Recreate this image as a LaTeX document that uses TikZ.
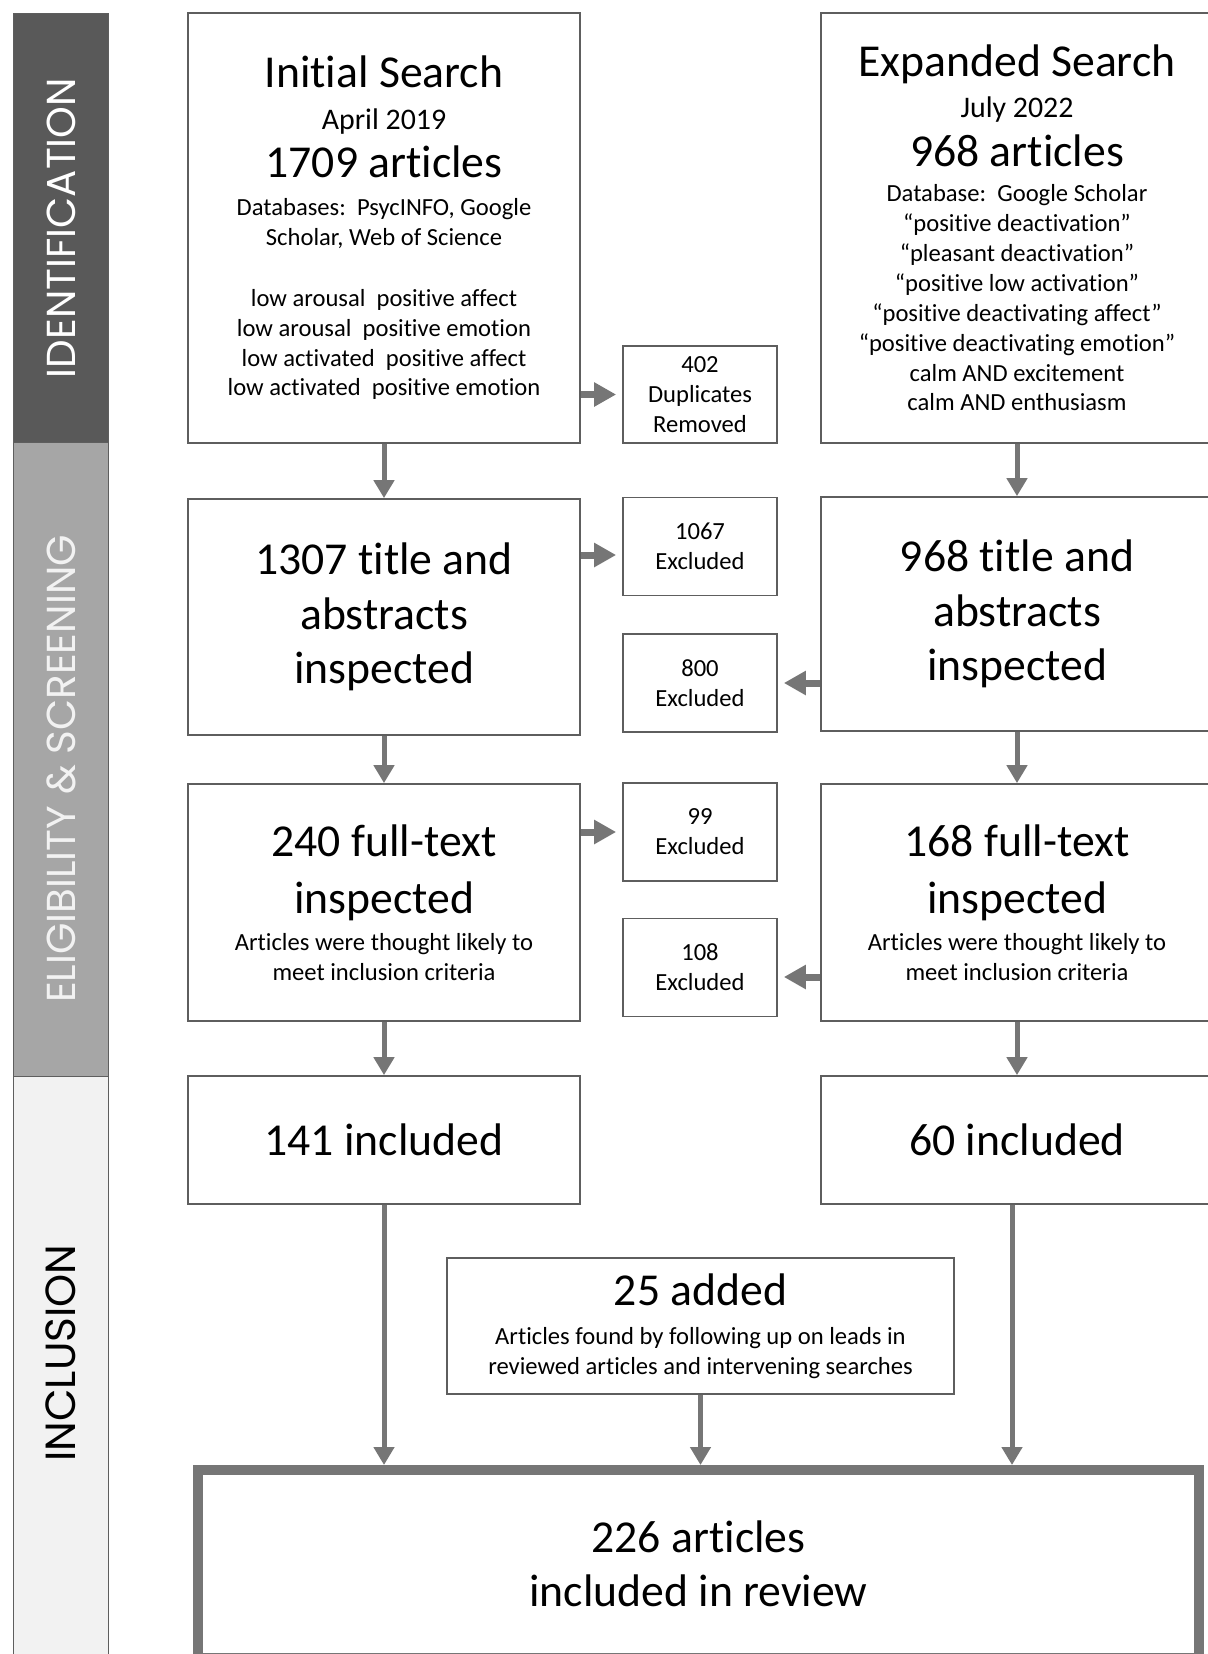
\documentclass[tikz,border=0pt]{standalone}
\usepackage{fontspec}
\setmainfont{Carlito}[Ligatures=NoCommon]
\newfontfamily\sidefont{Poppins}
\usetikzlibrary{arrows.meta}
\definecolor{bardark}{HTML}{595959}
\definecolor{barmid}{HTML}{A6A6A6}
\definecolor{barlight}{HTML}{F2F2F2}
\definecolor{linegray}{HTML}{5E5E5E}
\definecolor{arrowgray}{HTML}{767676}
\tikzset{
  box/.style={draw=linegray, line width=0.35mm, fill=white, align=center, inner sep=0pt,
    font=\fontsize{14}{17}\selectfont},
  bigbox/.style={box, minimum width=78.4mm},
  smallbox/.style={box, minimum width=30.8mm, minimum height=19.6mm},
  varrow/.style={arrowgray, line width=1mm, -{Triangle[width=4mm,length=3.6mm]}},
  harrow/.style={arrowgray, line width=1.4mm, -{Triangle[width=4.6mm,length=4.4mm]}, shorten >=1.2mm},
  sidelabel/.style={rotate=90, font=\sidefont\fontsize{23}{27}\selectfont}
}
\newcommand\bigtext[1]{{\fontsize{26}{31}\selectfont #1}}
\newcommand\midtext[1]{{\fontsize{17}{20}\selectfont #1}}

\begin{document}
\begin{tikzpicture}[x=0.2mm, y=-0.2mm]
  \useasboundingbox (0,0) rectangle (1208,1654);
  \fill[white] (0,0) rectangle (1208,1654);

  % phase bar on the left
  \draw[linegray, fill=bardark] (13,13) rectangle (108,442);
  \draw[linegray, fill=barmid] (13,442) rectangle (108,1076);
  \draw[linegray, fill=barlight] (13,1076) rectangle (108,1680);
  \node[sidelabel, white] (ident) at (61,228) {IDENTIFICATION};
  \node[sidelabel, barlight] (elig) at (61,769) {ELIGIBILITY \& SCREENING};
  \node[sidelabel, black, font=\sidefont\fontsize{24}{28}\selectfont] (incl) at (61,1353) {INCLUSION};

  % searches
  \node[bigbox, minimum height=86mm] (init) at (384,228) {\bigtext{Initial Search}\\[6.5pt]
    \midtext{April 2019}\\[5.5pt]
    \bigtext{1709 articles}\\[5pt]
    Databases:\ \ PsycINFO, Google\\
    Scholar, Web of Science\\[17.5pt]
    low arousal\ \ positive affect\\
    low arousal\ \ positive emotion\\
    low activated\ \ positive affect\\
    low activated\ \ positive emotion};
  \node[bigbox, minimum height=86mm] (expand) at (1017,228) {\bigtext{Expanded Search}\\[6.5pt]
    \midtext{July 2022}\\[6pt]
    \bigtext{968 articles}\\[3pt]
    Database:\ \ Google Scholar\\
    “positive deactivation”\\
    “pleasant deactivation”\\
    “positive low activation”\\
    “positive deactivating affect”\\
    “positive deactivating emotion”\\
    calm AND\ excitement\\
    calm AND\ enthusiasm};
  \node[smallbox, minimum height=19.4mm] (dup) at (700,394.5) {402\\Duplicates\\Removed};

  % screening
  \node[bigbox, minimum height=47.2mm, font=\fontsize{26}{31}\selectfont] (ta1) at (384,617)
    {1307 title and\\abstracts\\inspected};
  \node[bigbox, minimum height=46.8mm, font=\fontsize{26}{31}\selectfont] (ta2) at (1017,614)
    {968 title and\\abstracts\\inspected};
  \node[smallbox] (ex1) at (700,546.5) {1067\\Excluded};
  \node[smallbox] (ex2) at (700,683) {800\\Excluded};

  \node[bigbox, minimum height=47.4mm] (ft1) at (384,902.5) {\bigtext{240 full-text}\\[13pt]
    \bigtext{inspected}\\[4pt]
    Articles\ were thought likely to\\
    meet\ inclusion criteria};
  \node[bigbox, minimum height=47.4mm] (ft2) at (1017,902.5) {\bigtext{168 full-text}\\[13pt]
    \bigtext{inspected}\\[4pt]
    Articles\ were thought likely to\\
    meet\ inclusion criteria};
  \node[smallbox] (ex3) at (700,832) {99\\Excluded};
  \node[smallbox] (ex4) at (700,967.5) {108\\Excluded};

  % inclusion
  \node[bigbox, minimum height=25.6mm, font=\fontsize{26}{31}\selectfont] (inc1) at (384,1140) {141 included};
  \node[bigbox, minimum height=25.6mm, font=\fontsize{26}{31}\selectfont] (inc2) at (1017,1140) {60 included};
  \node[box, minimum width=101.4mm, minimum height=27.2mm] (added) at (700.5,1326) {\bigtext{25 added}\\[5pt]
    Articles\ found by following up on leads in\\
    reviewed\ articles and intervening searches};
  \node[box, draw=arrowgray, line width=2mm, minimum width=200.2mm, minimum height=37.6mm,
    font=\fontsize{26}{31}\selectfont] (final) at (698.5,1564) {226 articles\\included in review};

  % down arrows
  \draw[varrow] (init) -- (ta1);
  \draw[varrow] (expand) -- (ta2);
  \draw[varrow] (ta1) -- (ft1);
  \draw[varrow] (ta2) -- (ft2);
  \draw[varrow] (ft1) -- (inc1);
  \draw[varrow] (ft2) -- (inc2);
  \draw[varrow] (inc1.south) -- (inc1.south |- final.north);
  \draw[varrow] (added.south) -- (added.south |- final.north);
  \draw[varrow] ([xshift=-1mm]inc2.south) -- ([xshift=-1mm]inc2.south |- final.north);

  % side arrows
  \draw[harrow] (init.east |- dup.west) -- (dup.west);
  \draw[harrow] ([yshift=-1.7mm]ex1.west -| ta1.east) -- ([yshift=-1.7mm]ex1.west);
  \draw[harrow] (ta2.west |- ex2.east) -- (ex2.east);
  \draw[harrow] (ft1.east |- ex3.west) -- (ex3.west);
  \draw[harrow] ([yshift=-1.9mm]ex4.east -| ft2.west) -- ([yshift=-1.9mm]ex4.east);
\end{tikzpicture}
\end{document}
